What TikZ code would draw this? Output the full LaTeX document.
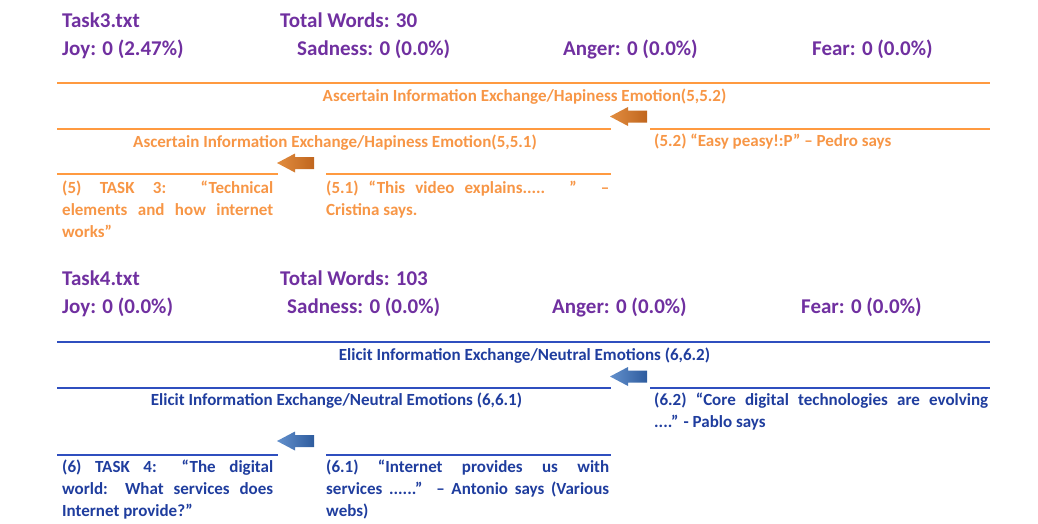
\documentclass[tikz,border=0pt]{standalone}
\usepackage{fontspec}
\setmainfont{Carlito}
\definecolor{purp}{HTML}{7030A0}
\definecolor{otext}{HTML}{F79646}
\definecolor{oline}{HTML}{FF9A40}
\definecolor{oarrowA}{HTML}{E28D40}
\definecolor{oarrowB}{HTML}{C0661E}
\definecolor{btext}{HTML}{1F3D9E}
\definecolor{bline}{HTML}{2F4FBF}
\definecolor{barrowA}{HTML}{6390CC}
\definecolor{barrowB}{HTML}{2E5C9E}
\hbadness=10000
\tikzset{
  purptext/.style={anchor=base west, inner sep=0pt, text=purp, font=\fontsize{21}{25}\selectfont\bfseries},
  headtext/.style={anchor=base, inner sep=0pt, font=\fontsize{17}{22}\selectfont\bfseries},
  bodytext/.style={anchor=north west, inner sep=0pt, align=justify, font=\fontsize{17}{22}\selectfont\bfseries},
  orule/.style={draw=oline, line width=2pt},
  brule/.style={draw=bline, line width=2pt},
}
\newcommand{\blockarrow}[3]{%
  \shade[left color=#2, right color=#3] (#1) -- ++(18,-9.5) -- ++(0,3.5) -- ++(19,0) -- ++(0,12) -- ++(-19,0) -- ++(0,3.5) -- cycle;}
\begin{document}
\begin{tikzpicture}[x=1pt,y=-1pt]
\useasboundingbox (0,0) rectangle (1038,523);

% ---------------- Task 3 ----------------
\node[purptext] (t3name) at (62,27) {Task3.txt};
\node[purptext] (t3words) at (280,27) {Total Words: 30};
\node[purptext] (t3joy) at (62,55) {Joy: 0 (2.47\%)};
\node[purptext] (t3sad) at (297,55) {Sadness: 0 (0.0\%)};
\node[purptext] (t3ang) at (563,55) {Anger: 0 (0.0\%)};
\node[purptext] (t3fear) at (812,55) {Fear: 0 (0.0\%)};

\draw[orule] (57,83) -- (990,83);
\node[headtext, text=otext] (t3h1) at (524.5,101) {Ascertain Information Exchange/Hapiness Emotion(5,5.2)};
\draw[orule] (57,129) -- (611,129);
\draw[orule] (650,129) -- (990,129);
\coordinate (t3a1) at (610,116.5);
\blockarrow{t3a1}{oarrowA}{oarrowB}
\node[headtext, text=otext] (t3h2) at (335,147) {Ascertain Information Exchange/Hapiness Emotion(5,5.1)};
\node[anchor=base west, inner sep=0pt, text=otext, font=\fontsize{17}{22}\selectfont\bfseries] (t3s52) at (654,146) {(5.2) “Easy peasy!:P” – Pedro says};
\coordinate (t3a2) at (277,163);
\blockarrow{t3a2}{oarrowA}{oarrowB}
\draw[orule] (57,174) -- (278,174);
\draw[orule] (326,174) -- (611,174);
\node[bodytext, text=otext, text width=211pt] (t3task) at (62,180.5) {(5) TASK 3: “Technical\linebreak elements and how internet\linebreak works”};
\node[bodytext, text=otext, text width=283pt] (t3s51) at (326,180.5) {(5.1) “This video explains..... ” –\linebreak Cristina says.};

% ---------------- Task 4 ----------------
\node[purptext] (t4name) at (62,285) {Task4.txt};
\node[purptext] (t4words) at (280,285) {Total Words: 103};
\node[purptext] (t4joy) at (62,313) {Joy: 0 (0.0\%)};
\node[purptext] (t4sad) at (287,313) {Sadness: 0 (0.0\%)};
\node[purptext] (t4ang) at (552,313) {Anger: 0 (0.0\%)};
\node[purptext] (t4fear) at (801,313) {Fear: 0 (0.0\%)};

\draw[brule] (57,342) -- (990,342);
\node[headtext, text=btext] (t4h1) at (524.5,360) {Elicit Information Exchange/Neutral Emotions (6,6.2)};
\draw[brule] (57,387.5) -- (611,387.5);
\draw[brule] (650,387.5) -- (990,387.5);
\coordinate (t4a1) at (610,376.5);
\blockarrow{t4a1}{barrowA}{barrowB}
\node[headtext, text=btext] (t4h2) at (336.5,405) {Elicit Information Exchange/Neutral Emotions (6,6.1)};
\node[bodytext, text=btext, text width=334pt] (t4s62) at (654,393) {(6.2) “Core digital technologies are evolving\linebreak ....” - Pablo says};
\coordinate (t4a2) at (277,441);
\blockarrow{t4a2}{barrowA}{barrowB}
\draw[brule] (57,455) -- (278,455);
\draw[brule] (326,455) -- (611,455);
\node[bodytext, text=btext, text width=211pt] (t4task) at (62,460) {(6) TASK 4: “The digital\linebreak world: What services does\linebreak Internet provide?”};
\node[bodytext, text=btext, text width=283pt] (t4s61) at (326,460) {(6.1) “Internet provides us with\linebreak services ......” – Antonio says (Various\linebreak webs)};
\end{tikzpicture}
\end{document}
